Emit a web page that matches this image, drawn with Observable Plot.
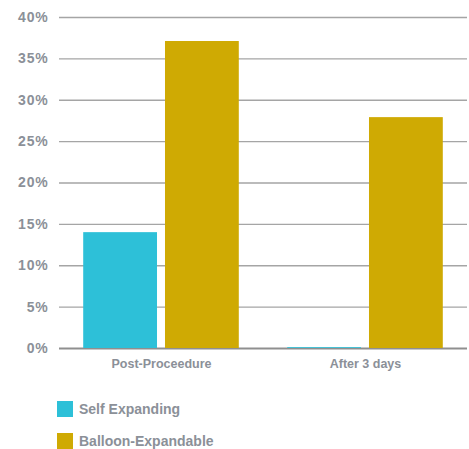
<!DOCTYPE html>
<html><head><meta charset="utf-8">
<script src="https://cdn.jsdelivr.net/npm/d3@7"></script>
<script src="https://cdn.jsdelivr.net/npm/@observablehq/plot@0.6"></script>
<style>
body{margin:0;background:#fff;font-family:"Liberation Sans",Arial,sans-serif;}
#legend{margin-left:57px;margin-top:21px;}
.item{display:flex;align-items:center;height:16px;margin-bottom:15.5px;color:#8b9098;font-size:14px;font-weight:bold;}
.sw{width:16px;height:16px;margin-right:6px;}
svg g[aria-label="y-axis tick label"] text{font-size:14px;letter-spacing:0.8px;}
svg g[aria-label="fx-axis tick label"] text{font-size:12.5px;}
</style></head><body><div id="chart"></div><div id="legend"></div><script>
const periods = ["Post-Proceedure", "After 3 days"];
const series = ["Self Expanding", "Balloon-Expandable"];
const selfExpanding = [14, 0.1];
const balloonExpandable = [37.1, 27.9];
const yTicks = [0, 5, 10, 15, 20, 25, 30, 35, 40];
const colors = ["#2dc0d8", "#cfaa03"];

const data = periods.flatMap((p, i) => [
  {period: p, series: series[0], value: selfExpanding[i]},
  {period: p, series: series[1], value: balloonExpandable[i]}
]);

const plot = Plot.plot({
  width: 469, height: 380,
  marginLeft: 58, marginRight: 2, marginTop: 17, marginBottom: 32,
  style: {fontFamily: "'Liberation Sans', Arial, sans-serif", fontSize: "13px", fontWeight: "bold", color: "#8b9098", background: "white"},
  fx: {domain: periods, padding: 0, label: null, axis: "bottom", tickSize: 0, tickPadding: 11},
  x: {domain: series, axis: null, paddingInner: 0.0976, paddingOuter: 0.296, round: false},
  y: {domain: [0, 40], ticks: yTicks, tickFormat: d => d + "%", label: null, tickSize: 0, tickPadding: 11},
  color: {domain: series, range: colors},
  marks: [
    Plot.ruleY(yTicks.filter(d => d > 0), {stroke: "#a5a5a5", strokeWidth: 1.3}),
    Plot.ruleY([0], {stroke: "#8f8f8f", strokeWidth: 2}),
    Plot.barY(data, {fx: "period", x: "series", y: "value", fill: "series"})
  ]
});
document.getElementById("chart").append(plot);

const legend = document.getElementById("legend");
series.forEach((s, i) => {
  const item = document.createElement("div");
  item.className = "item";
  const sw = document.createElement("div");
  sw.className = "sw";
  sw.style.background = colors[i];
  const label = document.createElement("span");
  label.textContent = s;
  item.append(sw, label);
  legend.append(item);
});
</script></body></html>
